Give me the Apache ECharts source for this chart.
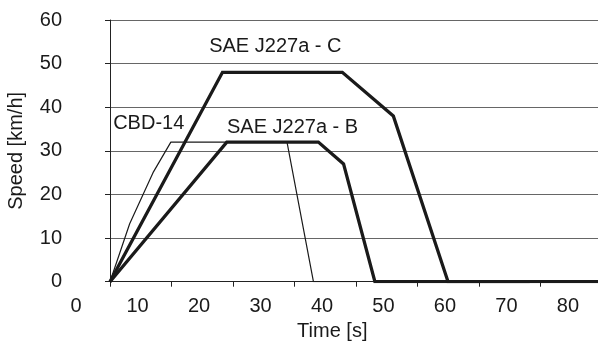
<!DOCTYPE html>
<html>
<head>
<meta charset="utf-8">
<script src="https://cdn.jsdelivr.net/npm/echarts@6/dist/echarts.min.js"></script>
<style>html,body{margin:0;padding:0;background:#fff}#c{width:598px;height:345px}</style>
</head>
<body>
<div id="c"></div>
<script>
// Data (time in s, speed in km/h)
const cbdTime = [0, 3.2, 7.0, 9.9, 28.8, 33.1, 40];
const cbdSpeed = [0, 13.3, 25, 32, 32, 0, 0];
const jbTime = [0, 19.0, 33.9, 38.0, 43.1, 68.3];
const jbSpeed = [0, 32, 32, 27, 0, 0];
const jcTime = [0, 18.3, 37.8, 46.1, 55.0, 80];
const jcSpeed = [0, 48, 48, 38, 0, 0];
const xTickValues = [0, 10, 20, 30, 40, 50, 60, 70];
const xTickLabels = ['0', '10', '20', '30', '40', '50', '60', '70', '80'];
const yTickLabels = ['0', '10', '20', '30', '40', '50', '60'];

const FONT = 'Liberation Sans, Arial, sans-serif';
const FS = 20;
const TXT = '#1a1a1a';
const pairs = (t, v) => t.map((x, i) => [x, v[i]]);
// label i sits half a tick to the left of the tick grid (as in the reference)
const xLabelPos = xTickLabels.map((s, i) => i * 10 - 5.5);

const chart = echarts.init(document.getElementById('c'), null, {renderer: 'canvas'});
const lineBase = {type: 'line', showSymbol: false, symbol: 'none', xAxisIndex: 0, yAxisIndex: 0, animation: false, clip: true};
const mp = (name, t, v) => ({
  symbol: 'circle', symbolSize: 0, silent: true, animation: false,
  label: {show: true, position: 'inside', formatter: name, fontFamily: FONT, fontSize: FS, color: TXT},
  data: [{coord: [t, v]}]
});
chart.setOption({
  animation: false,
  grid: [
    {left: 110, right: 0, top: 20, bottom: 63.3, containLabel: false, outerBoundsMode: 'none'},
    {left: 48.5, right: 0, top: 20, bottom: 63.3, containLabel: false, outerBoundsMode: 'none'}
  ],
  xAxis: [
    {type: 'value', gridIndex: 0, min: 0, max: 79.4,
     axisLine: {show: true, onZero: false, lineStyle: {color: '#222', width: 1}},
     axisTick: {show: true, length: 5, customValues: xTickValues, lineStyle: {color: '#222'}},
     axisLabel: {show: false}, splitLine: {show: false}},
    {type: 'value', gridIndex: 1, min: -10, max: 79.4,
     axisLine: {show: false}, axisTick: {show: false}, splitLine: {show: false},
     axisLabel: {show: true, customValues: xLabelPos, margin: 15, fontFamily: FONT, fontSize: FS, color: TXT,
       formatter: v => xTickLabels[Math.round((v + 5.5) / 10)]},
     name: 'Time [s]', nameLocation: 'middle', nameGap: 36,
     nameTextStyle: {fontFamily: FONT, fontSize: FS, color: TXT, padding: [0, 0, 0, 18]}}
  ],
  yAxis: [
    {type: 'value', gridIndex: 0, min: 0, max: 60, interval: 10,
     axisLine: {show: true, onZero: false, lineStyle: {color: '#222', width: 1}},
     axisTick: {show: true, length: 5, lineStyle: {color: '#222'}},
     axisLabel: {margin: 48, fontFamily: FONT, fontSize: FS, color: TXT,
       formatter: v => yTickLabels[Math.round(v / 10)]},
     splitLine: {show: true, lineStyle: {color: '#666', width: 1}},
     name: 'Speed [km/h]', nameLocation: 'middle', nameGap: 84, nameRotate: 90,
     nameTextStyle: {fontFamily: FONT, fontSize: FS, color: TXT}},
    {type: 'value', gridIndex: 1, min: 0, max: 60, show: false}
  ],
  series: [
    Object.assign({}, lineBase, {name: 'CBD-14', data: pairs(cbdTime, cbdSpeed),
      lineStyle: {color: '#1a1a1a', width: 1.2}, markPoint: mp('CBD-14', 6.3, 36.2)}),
    Object.assign({}, lineBase, {name: 'SAE J227a - B', data: pairs(jbTime, jbSpeed),
      lineStyle: {color: '#1a1a1a', width: 3.3, join: 'miter'}, markPoint: mp('SAE J227a - B', 29.7, 35.3)}),
    Object.assign({}, lineBase, {name: 'SAE J227a - C', data: pairs(jcTime, jcSpeed),
      lineStyle: {color: '#1a1a1a', width: 3.3, join: 'miter'}, markPoint: mp('SAE J227a - C', 26.9, 53.9)})
  ]
});
</script>
</body>
</html>
